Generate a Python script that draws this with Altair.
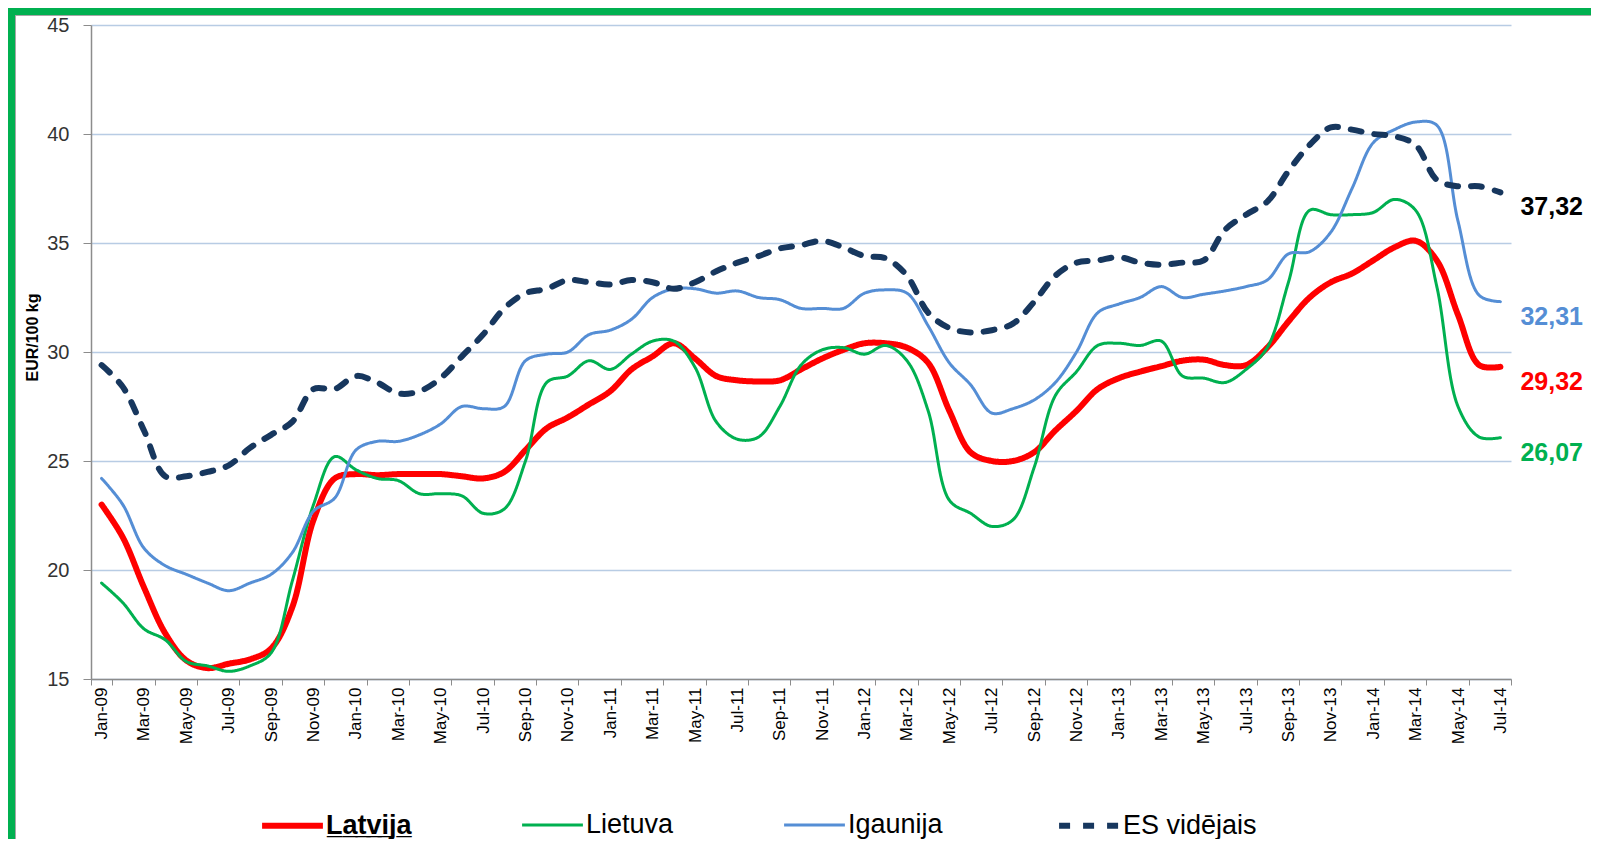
import altair as alt
import pandas as pd

# ---- categories -----------------------------------------------------------
month_names = ["Jan", "Feb", "Mar", "Apr", "May", "Jun",
               "Jul", "Aug", "Sep", "Oct", "Nov", "Dec"]
months = [f"{m}-{y:02d}" for y in range(9, 15) for m in month_names][:67]

series_names = ["Latvija", "Lietuva", "Igaunija", "ES vidējais"]

# ---- series values (EUR/100 kg) -------------------------------------------
latvija = [23.0, 21.5, 19.2, 17.1, 15.85, 15.5, 15.7, 15.9, 16.4, 18.3,
           22.3, 24.2, 24.4, 24.35, 24.4, 24.4, 24.4, 24.3, 24.2, 24.5,
           25.5, 26.5, 27.0, 27.6, 28.2, 29.2, 29.8, 30.4, 29.7, 28.9,
           28.7, 28.65, 28.7, 29.2, 29.7, 30.1, 30.4, 30.4, 30.2, 29.5,
           27.3, 25.4, 25.0, 25.0, 25.4, 26.4, 27.3, 28.3, 28.8, 29.1,
           29.35, 29.6, 29.65, 29.4, 29.4, 30.2, 31.4, 32.5, 33.2, 33.6,
           34.2, 34.8, 35.1, 34.2, 31.7, 29.4, 29.32]
lietuva = [19.4, 18.5, 17.3, 16.8, 15.8, 15.6, 15.35, 15.6, 16.2, 19.5,
           23.0, 25.2, 24.6, 24.2, 24.1, 23.5, 23.5, 23.4, 22.6, 22.8,
           25.0, 28.6, 28.9, 29.6, 29.2, 29.9, 30.5, 30.5, 29.3, 26.8,
           26.0, 26.1, 27.5, 29.4, 30.1, 30.2, 29.9, 30.3, 29.6, 27.3,
           23.2, 22.6, 22.0, 22.3, 24.7, 28.0, 29.1, 30.3, 30.4, 30.3,
           30.5, 28.9, 28.8, 28.6, 29.2, 30.2, 33.2, 36.5, 36.3, 36.3,
           36.4, 37.0, 36.5, 33.0, 27.5, 26.1, 26.07]
igaunija = [24.2, 23.0, 21.0, 20.2, 19.8, 19.4, 19.05, 19.4, 19.8, 20.8,
            22.7, 23.3, 25.5, 25.9, 25.9, 26.2, 26.7, 27.5, 27.4, 27.5,
            29.6, 29.9, 30.0, 30.8, 31.0, 31.5, 32.5, 32.9, 32.9, 32.7,
            32.8, 32.5, 32.4, 32.0, 32.0, 32.0, 32.7, 32.85, 32.7, 31.2,
            29.5, 28.5, 27.2, 27.4, 27.8, 28.6, 30.0, 31.8, 32.2, 32.5,
            33.0, 32.5, 32.65, 32.8, 33.0, 33.3, 34.5, 34.6, 35.5, 37.5,
            39.6, 40.2, 40.55, 40.4, 36.0, 32.6, 32.31]
es_videjais = [29.4, 28.4, 26.4, 24.3, 24.3, 24.5, 24.8, 25.6, 26.2, 26.8,
               28.3, 28.3, 28.9, 28.6, 28.1, 28.2, 28.8, 29.8, 30.8, 32.0,
               32.7, 32.9, 33.3, 33.2, 33.1, 33.3, 33.2, 32.9, 33.2, 33.7,
               34.1, 34.4, 34.75, 34.9, 35.1, 34.8, 34.4, 34.3, 33.5, 31.8,
               31.1, 30.9, 31.0, 31.3, 32.3, 33.5, 34.1, 34.2, 34.35, 34.1,
               34.0, 34.1, 34.2, 35.6, 36.3, 36.9, 38.3, 39.5, 40.3, 40.2,
               40.0, 39.9, 39.5, 37.9, 37.6, 37.6, 37.32]

end_labels = ["29,32", "26,07", "32,31", "37,32"]

# ---- styles ---------------------------------------------------------------
line_colors = ["#ff0000", "#00b050", "#558ed5", "#17375e"]
label_colors = ["#ff0000", "#00b050", "#558ed5", "#000000"]
line_widths = [6, 3, 3, 6]
line_dashes = [[1, 0], [1, 0], [1, 0], [11, 13]]

all_values = [latvija, lietuva, igaunija, es_videjais]
rows = []
for name, vals in zip(series_names, all_values):
    for m, v in zip(months, vals):
        rows.append({"month": m, "value": v, "series": name})
df = pd.DataFrame(rows)

end_df = pd.DataFrame({
    "month": [months[-1]] * 4,
    "value": [vals[-1] for vals in all_values],
    "label": end_labels,
    "tcolor": label_colors,
    "series": series_names,
})

W, H = 1420, 654
FONT = "Liberation Sans"
AXIS_GRAY = "#8c8c8c"

x_enc = alt.X(
    "month:O",
    bandPosition=0.5,
    scale=alt.Scale(type="band", domain=months, paddingInner=0, paddingOuter=0),
    axis=alt.Axis(
        title=None, values=months[::2], labelAngle=-90, tickBand="extent",
        tickSize=6, tickColor=AXIS_GRAY, domainColor=AXIS_GRAY, domainWidth=1.5,
        labelFontSize=17, labelFont=FONT, labelColor="#000000", labelPadding=2,
        grid=False,
    ),
)
y_enc = alt.Y(
    "value:Q",
    scale=alt.Scale(domain=[15, 45], nice=False, zero=False),
    axis=alt.Axis(
        title="EUR/100 kg", values=[15, 20, 25, 30, 35, 40, 45],
        titleFont=FONT, titleFontSize=16, titleFontWeight="bold",
        titleColor="#000000", titlePadding=6, titleY=312,
        labelFont=FONT, labelFontSize=20, labelColor="#333333", labelPadding=14,
        tickSize=8, tickColor=AXIS_GRAY, domainColor=AXIS_GRAY, domainWidth=1.5,
        grid=True, gridColor="#b8cce4", gridWidth=1.5,
    ),
)

legend = alt.Legend(
    title=None, orient="none", legendX=168, legendY=767,
    direction="horizontal", columns=4, columnPadding=104,
    symbolType="stroke", symbolSize=3700, labelOffset=0,
    labelFont=FONT, labelFontSize=27, labelColor="#000000", labelLimit=0,
    labelFontWeight={"expr": "datum.value == 'Latvija' ? 'bold' : 'normal'"},
    labelExpr="datum.value == 'Latvija' ? 'L\u0332a\u0332t\u0332v\u0332i\u0332j\u0332a\u0332' : datum.label",
)

color_enc = alt.Color("series:N", scale=alt.Scale(domain=series_names, range=line_colors), legend=legend)
dash_enc = alt.StrokeDash("series:N", scale=alt.Scale(type="ordinal", domain=series_names, range=line_dashes), legend=legend)
width_enc = alt.StrokeWidth("series:N", scale=alt.Scale(type="ordinal", domain=series_names, range=line_widths), legend=legend)

layers = []
# decorative frame (green border at left and top)
one = pd.DataFrame({"k": [0]})
layers.append(alt.Chart(one).mark_rule(color="#00b050", strokeWidth=7).encode(
    x=alt.value(-79.5), y=alt.value(-17), y2=alt.value(H + 170)))
layers.append(alt.Chart(one).mark_rule(color="#00b050", strokeWidth=7).encode(
    y=alt.value(-13.5), x=alt.value(-83), x2=alt.value(W + 90)))
layers.append(alt.Chart(one).mark_rule(color="#a6a6a6", strokeWidth=1).encode(
    x=alt.value(-75.5), y=alt.value(-10), y2=alt.value(H + 170)))
layers.append(alt.Chart(one).mark_rule(color="#a6a6a6", strokeWidth=1).encode(
    y=alt.value(-9.5), x=alt.value(-76), x2=alt.value(W + 90)))

for name in series_names:
    layers.append(
        alt.Chart(df)
        .transform_filter(alt.datum.series == name)
        .mark_line(interpolate="catmull-rom", strokeCap="round", strokeJoin="round")
        .encode(x=x_enc, y=y_enc, color=color_enc, strokeDash=dash_enc, strokeWidth=width_enc)
    )

layers.append(
    alt.Chart(end_df)
    .mark_text(align="left", baseline="middle", dx=20, dy=15,
               font=FONT, fontSize=25, fontWeight="bold")
    .encode(x=x_enc, y=y_enc, text="label:N", color=alt.Color("tcolor:N", scale=None))
)

chart = (
    alt.layer(*layers)
    .properties(
        width=W, height=H,
        autosize=alt.AutoSizeParams(type="none"),
        padding={"left": 83, "top": 17, "right": 80, "bottom": 160},
        background="#ffffff",
    )
    .configure_view(stroke=None)
)

chart.save("out.html", embed_options={"renderer": "svg", "actions": False})
